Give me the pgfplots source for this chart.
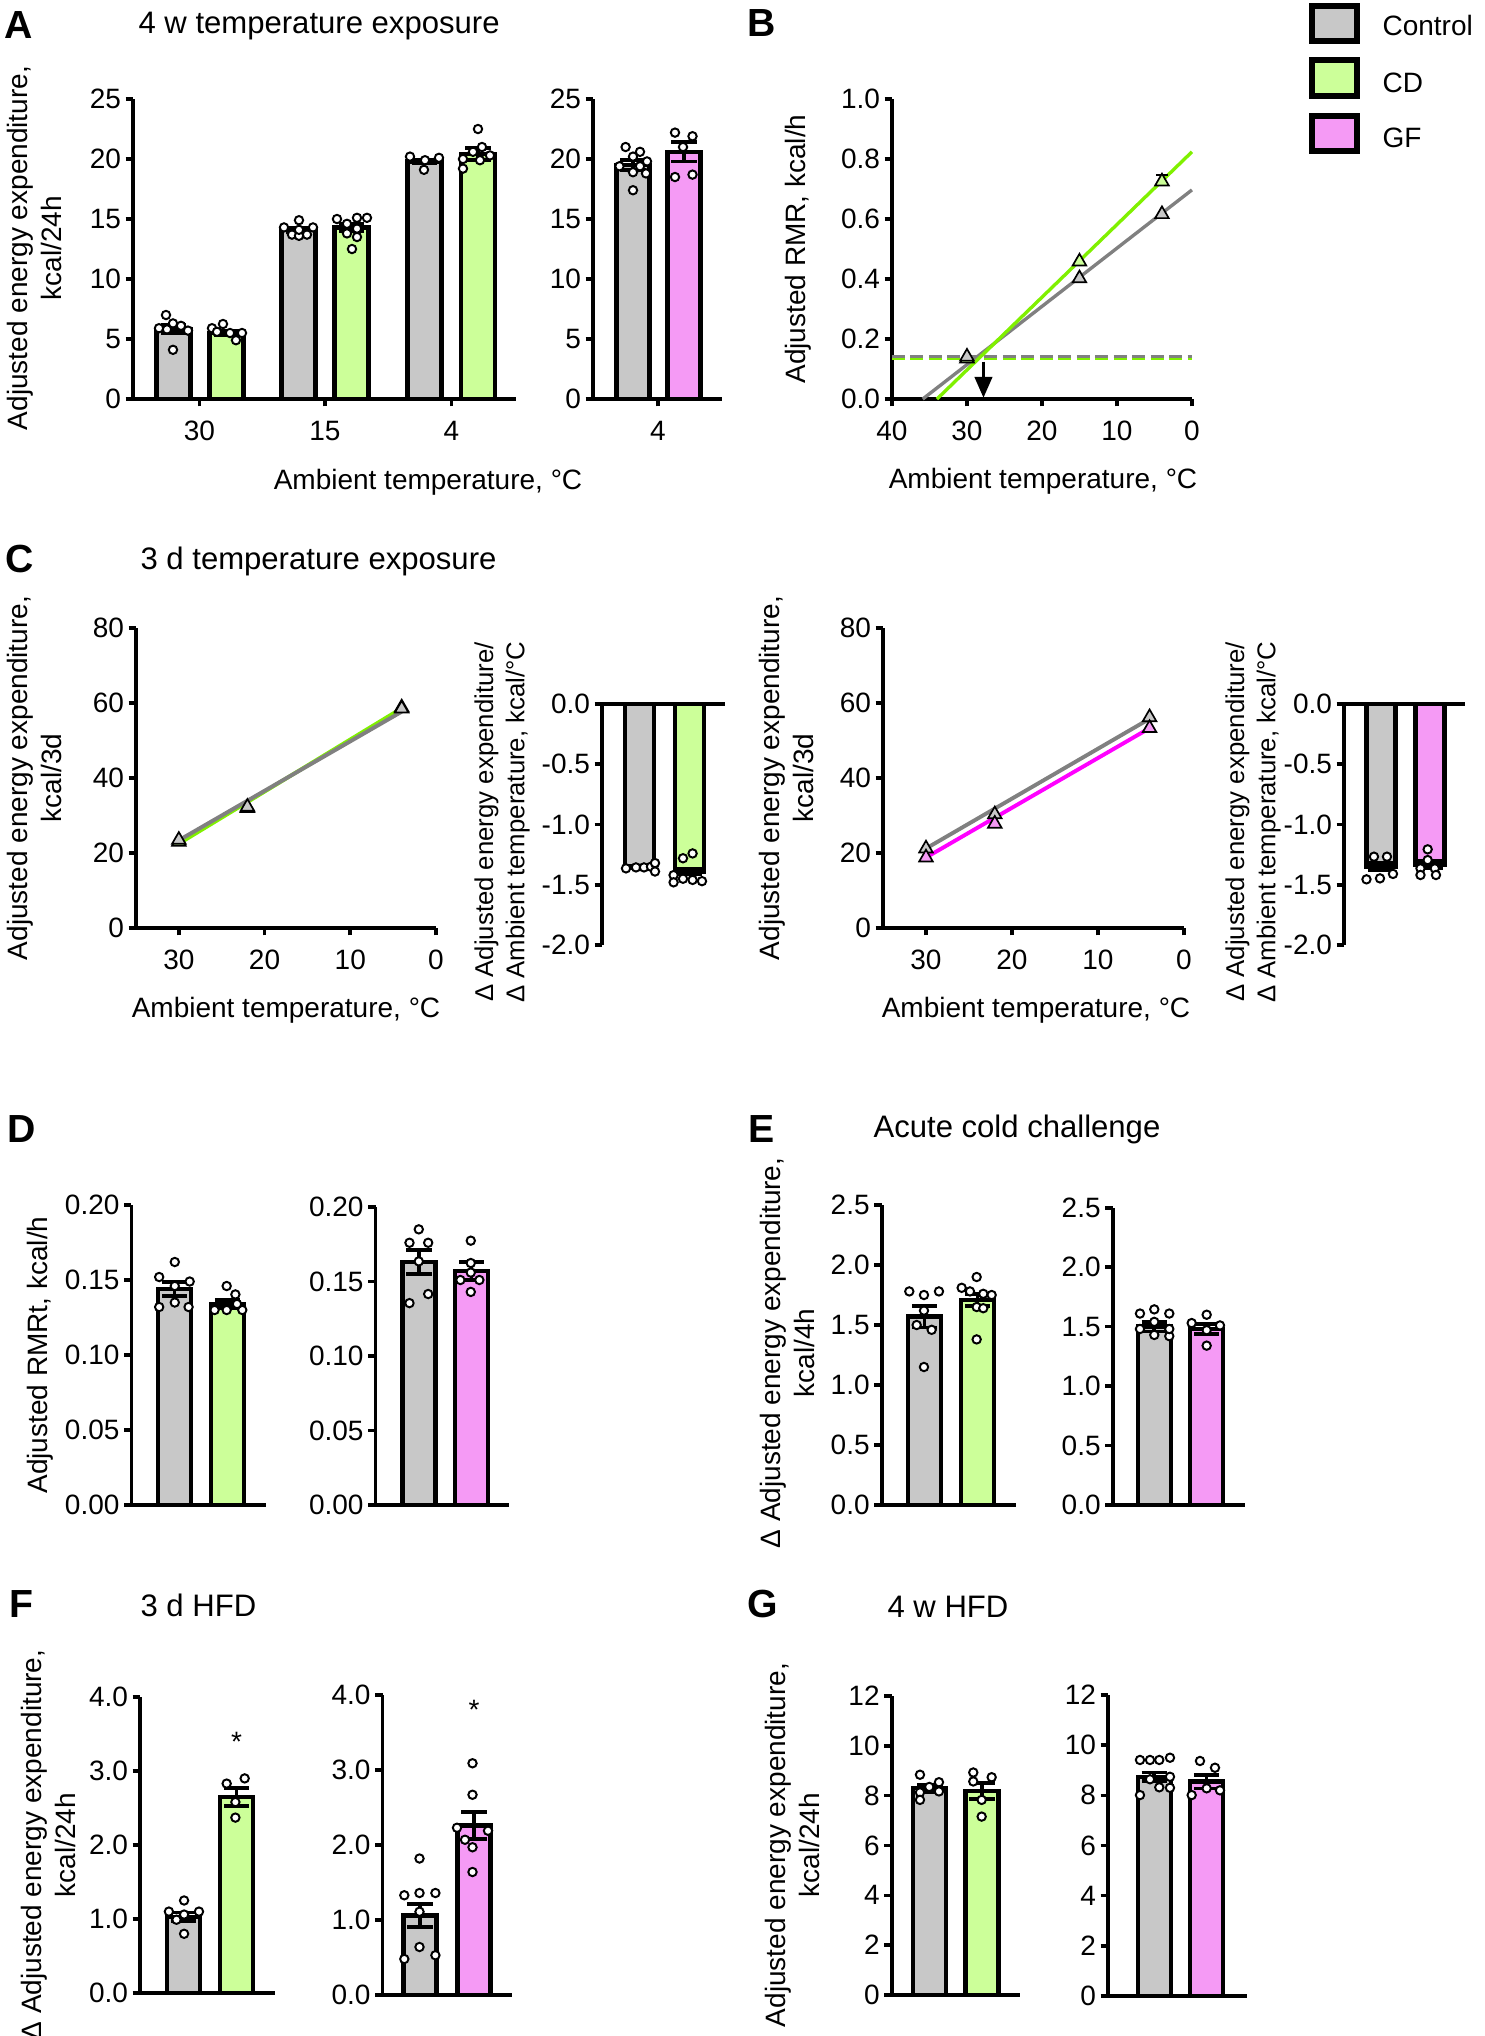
\documentclass[border=0pt]{standalone}
\usepackage{fontspec}
\setmainfont{Liberation Sans}
\usepackage{pgfplots}
\pgfplotsset{compat=1.18}
\usetikzlibrary{arrows.meta}

\definecolor{cgray}{HTML}{C8C8C8}
\definecolor{cgreen}{HTML}{CCFF99}
\definecolor{cpink}{HTML}{F59AF5}
\definecolor{lgray}{HTML}{808080}
\definecolor{lgreen}{HTML}{80F000}
\definecolor{lpink}{HTML}{FF00FF}

\pgfplotsset{
  base/.style={
    scale only axis, anchor=south west, clip=false,
    axis line style={line width=1.3pt},
    every tick/.style={black, line width=1.3pt},
    tick align=outside, major tick length=2.6pt,
    /pgf/number format/assume math mode=true,
    tick label style={font=\fontsize{10}{12}\selectfont},
    yticklabel style={inner sep=0pt, xshift=-1.5pt},
    xticklabel style={inner sep=0pt, yshift=-5.2pt},
    axis x line*=bottom, axis y line*=left,
  },
  barax/.style={base, xtick=\empty},
  bars/.style 2 args={ybar, bar shift=0pt, bar width=#2, draw=black, line width=1.6pt, fill=#1,
    /pgfplots/error bars/y dir=both, /pgfplots/error bars/y explicit,
    /pgfplots/error bars/error bar style={line width=1.3pt, black},
    /pgfplots/error bars/error mark options={rotate=90, line width=1.3pt, mark size=4.5pt, black}},
  dots/.style={only marks, mark=*, mark size=1.5pt, mark options={fill=white, draw=black, line width=0.7pt, solid}},
  tri/.style={only marks, mark=triangle*, mark size=2.8pt, mark options={fill=#1, draw=black, line width=0.6pt, solid}},
  prec1/.style={yticklabel style={/pgf/number format/fixed, /pgf/number format/fixed zerofill, /pgf/number format/precision=1}},
  prec2/.style={yticklabel style={/pgf/number format/fixed, /pgf/number format/fixed zerofill, /pgf/number format/precision=2}},
}

\begin{document}
\begin{tikzpicture}[x=0.35714pt,y=0.35714pt]
\path[use as bounding box] (0,0) rectangle (1485,-2036);

% ---------- A left
\begin{axis}[barax, at={(47.50pt,-142.50pt)}, width=136.78pt, height=107.14pt,
  xmin=133, xmax=516, ymin=0, ymax=25, ytick={0,5,10,15,20,25},
  xtick={199.5,325,451.5}, xticklabels={30,15,4}]
\addplot[bars={cgray}{34}] coordinates {(173.5,5.8) +- (0,0.35) (298.7,14.1) +- (0,0.2) (424.7,19.8) +- (0,0.15)};
\addplot[bars={cgreen}{34}] coordinates {(226.5,5.5) +- (0,0.2) (351.7,14.3) +- (0,0.3) (478,20.4) +- (0,0.5)};
\addplot[dots] coordinates {(166,7.0) (173,6.3) (181,6.1) (159,5.9) (188,5.7) (167,5.8) (173,4.1)
 (299,14.9) (284,14.3) (313,14.3) (292,13.7) (307,13.7) (299,13.6) (299,14.1)
 (410,20.2) (425,19.9) (439,20.1) (424,19.1)};
\addplot[dots] coordinates {(212,5.9) (223,6.25) (217,5.6) (230,5.5) (242,5.5) (236,4.9)
 (337,15.0) (357,15.1) (367,15.1) (347,14.6) (357,14.2) (347,13.8) (357,13.5) (352,12.5)
 (478,22.5) (482,21.0) (473,20.6) (490,20.3) (463,20.0) (480,19.9) (463,19.2)};
\end{axis}

% ---------- A right
\begin{axis}[barax, at={(211.79pt,-142.50pt)}, width=46.07pt, height=107.14pt,
  xmin=593, xmax=722, ymin=0, ymax=25, ytick={0,5,10,15,20,25},
  xtick={658}, xticklabels={4}]
\addplot[bars={cgray}{33}] coordinates {(633,19.5) +- (0,0.4)};
\addplot[bars={cpink}{33}] coordinates {(684,20.6) +- (0,0.8)};
\addplot[dots] coordinates {(625.6,21.0) (640,20.6) (633,20.2) (647,19.8) (619.5,19.4) (640,19.4) (633,18.9) (646,18.8) (633,17.4)};
\addplot[dots] coordinates {(675,22.2) (692.5,21.9) (683,21.0) (675,18.5) (692.5,18.7)};
\end{axis}

% ---------- B
\begin{axis}[base, at={(318.57pt,-142.50pt)}, width=107.14pt, height=107.14pt,
  xmin=0, xmax=40, x dir=reverse, ymin=0, ymax=1,
  xtick={0,10,20,30,40}, ytick={0,0.2,0.4,0.6,0.8,1}, prec1]
\addplot[lgreen, line width=1.2pt, dash pattern=on 4.6pt off 2pt] coordinates {(40,0.136) (0,0.136)};
\addplot[lgray, line width=1.2pt, dash pattern=on 4.6pt off 2pt] coordinates {(40,0.141) (0,0.141)};
\addplot[lgray, line width=1.2pt] coordinates {(35.9,0) (0,0.697)};
\addplot[lgreen, line width=1.2pt] coordinates {(34.0,0) (0,0.824)};
\addplot[black, line width=0.8pt] coordinates {(4,0.725) (4,0.747)};
\addplot[black, line width=0.8pt] coordinates {(4.8,0.747) (3.2,0.747)};
\addplot[tri=cgreen] coordinates {(30,0.135) (15,0.458) (4,0.725)};
\addplot[tri=cgray] coordinates {(30,0.141) (15,0.402) (4,0.616)};
\addplot[black, line width=1.2pt, -{Triangle[length=7.5pt, width=6.2pt]}] coordinates {(27.8,0.125) (27.8,0.004)};
\end{axis}

% ---------- C left line
\begin{axis}[base, at={(48.57pt,-331.43pt)}, width=107.14pt, height=107.14pt,
  xmin=0, xmax=35, x dir=reverse, ymin=0, ymax=80,
  xtick={0,10,20,30}, ytick={0,20,40,60,80}]
\addplot[lgreen, line width=1.4pt] coordinates {(30,22.5) (4,58.6)};
\addplot[lgray, line width=1.4pt] coordinates {(30,23.4) (4,57.7)};
\addplot[tri=cgreen] coordinates {(30,23.0) (22,32.0) (4,58.8)};
\addplot[tri=cgray] coordinates {(30,23.5) (22,32.3) (4,58.5)};
\end{axis}

% ---------- C left bars
\begin{axis}[barax, at={(215.00pt,-337.50pt)}, width=43.93pt, height=86.07pt,
  xmin=602, xmax=725, ymin=-2, ymax=0, ytick={-2,-1.5,-1,-0.5,0}, prec1,
  axis x line*=top]
\addplot[bars={cgray}{29}] coordinates {(639.5,-1.35) +- (0,0.01)};
\addplot[bars={cgreen}{29}] coordinates {(689.5,-1.39) +- (0,0.025)};
\addplot[dots] coordinates {(626,-1.364) (636,-1.356) (644,-1.356) (651,-1.35) (655,-1.32) (655,-1.39)};
\addplot[dots] coordinates {(683,-1.28) (692.6,-1.24) (673.6,-1.42) (673.6,-1.48) (683,-1.45) (692.6,-1.46) (702,-1.47)};
\end{axis}

% ---------- C right line
\begin{axis}[base, at={(315.36pt,-331.43pt)}, width=107.5pt, height=107.14pt,
  xmin=0, xmax=35, x dir=reverse, ymin=0, ymax=80,
  xtick={0,10,20,30}, ytick={0,20,40,60,80}]
\addplot[lgray, line width=1.4pt] coordinates {(30,21.2) (4,55.8)};
\addplot[lpink, line width=1.4pt] coordinates {(30,18.8) (4,53.3)};
\addplot[tri=cgray] coordinates {(30,21.2) (22,30.3) (4,56.2)};
\addplot[tri=cpink] coordinates {(30,18.8) (22,27.8) (4,53.3)};
\end{axis}

% ---------- C right bars
\begin{axis}[barax, at={(480.00pt,-337.50pt)}, width=43.21pt, height=86.07pt,
  xmin=1344, xmax=1465, ymin=-2, ymax=0, ytick={-2,-1.5,-1,-0.5,0}, prec1,
  axis x line*=top]
\addplot[bars={cgray}{29}] coordinates {(1381,-1.35) +- (0,0.03)};
\addplot[bars={cpink}{29}] coordinates {(1430,-1.33) +- (0,0.03)};
\addplot[dots] coordinates {(1366.5,-1.455) (1374,-1.267) (1387,-1.267) (1380,-1.447) (1393,-1.41)};
\addplot[dots] coordinates {(1427.7,-1.206) (1427.7,-1.295) (1420.5,-1.364) (1434.8,-1.364) (1420.5,-1.419) (1436,-1.419)};
\end{axis}

% ---------- D left
\begin{axis}[barax, at={(46.96pt,-537.50pt)}, width=48.21pt, height=107.14pt,
  xmin=131.5, xmax=266.5, ymin=0, ymax=0.2, ytick={0,0.05,0.1,0.15,0.2}, prec2]
\addplot[bars={cgray}{33}] coordinates {(174.5,0.144) +- (0,0.0045)};
\addplot[bars={cgreen}{33}] coordinates {(227.5,0.134) +- (0,0.0028)};
\addplot[dots] coordinates {(174.8,0.162) (159.2,0.152) (189.7,0.149) (174.8,0.146) (174.8,0.135) (159.2,0.132) (188.6,0.132)};
\addplot[dots] coordinates {(226.7,0.146) (235.4,0.1404) (214.6,0.130) (226.7,0.130) (242.3,0.130) (237,0.134)};
\end{axis}

% ---------- D right
\begin{axis}[barax, at={(134.14pt,-537.50pt)}, width=47.64pt, height=106.43pt,
  xmin=375.6, xmax=509, ymin=0, ymax=0.2, ytick={0,0.05,0.1,0.15,0.2}, prec2]
\addplot[bars={cgray}{33}] coordinates {(419,0.163) +- (0,0.008)};
\addplot[bars={cpink}{33}] coordinates {(471.5,0.157) +- (0,0.006)};
\addplot[dots] coordinates {(418.8,0.185) (409.5,0.176) (428.2,0.176) (418.8,0.1635) (428.2,0.1416) (409.5,0.1355)};
\addplot[dots] coordinates {(470.8,0.1774) (470.8,0.1624) (460.4,0.151) (479.4,0.151) (470.8,0.143) (470.8,0.156)};
\end{axis}

% ---------- E left
\begin{axis}[barax, at={(314.89pt,-537.50pt)}, width=47.96pt, height=107.14pt,
  xmin=881.7, xmax=1016, ymin=0, ymax=2.5, ytick={0,0.5,1,1.5,2,2.5}, prec1]
\addplot[bars={cgray}{33}] coordinates {(924.5,1.57) +- (0,0.09)};
\addplot[bars={cgreen}{33}] coordinates {(977.5,1.71) +- (0,0.05)};
\addplot[dots] coordinates {(909.3,1.78) (924,1.75) (939,1.78) (924,1.62) (916.7,1.50) (931.7,1.46) (924,1.15)};
\addplot[dots] coordinates {(976.7,1.90) (961.7,1.81) (970,1.78) (983.3,1.76) (991.7,1.75) (976.7,1.65) (983.3,1.64) (976.7,1.38)};
\end{axis}

% ---------- E right
\begin{axis}[barax, at={(397.39pt,-537.50pt)}, width=47.25pt, height=106.18pt,
  xmin=1112.7, xmax=1245, ymin=0, ymax=2.5, ytick={0,0.5,1,1.5,2,2.5}, prec1]
\addplot[bars={cgray}{33}] coordinates {(1154.3,1.50) +- (0,0.04)};
\addplot[bars={cpink}{33}] coordinates {(1206.5,1.48) +- (0,0.04)};
\addplot[dots] coordinates {(1140,1.61) (1154.3,1.645) (1169.3,1.61) (1154.3,1.54) (1140,1.48) (1154.3,1.43) (1169.3,1.42) (1169.3,1.48)};
\addplot[dots] coordinates {(1206.7,1.60) (1191.7,1.53) (1220,1.51) (1206.7,1.47) (1206.7,1.34)};
\end{axis}

% ---------- F left
\begin{axis}[barax, at={(50.00pt,-711.78pt)}, width=48.21pt, height=105.71pt,
  xmin=140, xmax=275, ymin=0, ymax=4, ytick={0,1,2,3,4}, prec1]
\addplot[bars={cgray}{33}] coordinates {(183.5,1.03) +- (0,0.06)};
\addplot[bars={cgreen}{33}] coordinates {(236.5,2.65) +- (0,0.12)};
\addplot[dots] coordinates {(184.1,1.25) (168.9,1.10) (199,1.10) (184.1,1.06) (176.5,0.99) (184.1,0.80)};
\addplot[dots] coordinates {(244.7,2.90) (226.7,2.83) (235.4,2.58) (235.4,2.37)};
\node[anchor=north, inner sep=0pt, font=\fontsize{10}{12}\selectfont] at (axis cs:236.5,3.53) {*};
\end{axis}

% ---------- F right
\begin{axis}[barax, at={(136.61pt,-712.50pt)}, width=46.11pt, height=107.14pt,
  xmin=382.5, xmax=511.6, ymin=0, ymax=4, ytick={0,1,2,3,4}, prec1]
\addplot[bars={cgray}{33}] coordinates {(420,1.06) +- (0,0.155)};
\addplot[bars={cpink}{33}] coordinates {(474,2.26) +- (0,0.18)};
\addplot[dots] coordinates {(419.5,1.82) (404.3,1.33) (419.5,1.36) (435.4,1.36) (419.5,1.11) (419.5,0.64) (404.3,0.48) (435.4,0.53)};
\addplot[dots] coordinates {(472.5,3.09) (472.5,2.67) (457,2.23) (488,2.19) (465,2.07) (472.5,1.97) (472.5,1.64)};
\node[anchor=north, inner sep=0pt, font=\fontsize{10}{12}\selectfont] at (axis cs:474,3.94) {*};
\end{axis}

% ---------- G left
\begin{axis}[barax, at={(318.46pt,-712.50pt)}, width=45.82pt, height=106.79pt,
  xmin=891.7, xmax=1020, ymin=0, ymax=12, ytick={0,2,4,6,8,10,12}]
\addplot[bars={cgray}{33}] coordinates {(929.5,8.30) +- (0,0.15)};
\addplot[bars={cgreen}{33}] coordinates {(982,8.19) +- (0,0.33)};
\addplot[dots] coordinates {(920,8.84) (939,8.54) (929.3,8.35) (920,8.13) (939,8.17) (920,7.83)};
\addplot[dots] coordinates {(973.3,8.93) (991.7,8.74) (973.3,8.57) (981.7,7.83) (981.7,7.16)};
\end{axis}

% ---------- G right
\begin{axis}[barax, at={(395.71pt,-712.86pt)}, width=49.54pt, height=107.5pt,
  xmin=1108, xmax=1246.7, ymin=0, ymax=12, ytick={0,2,4,6,8,10,12}]
\addplot[bars={cgray}{33}] coordinates {(1154.3,8.74) +- (0,0.17)};
\addplot[bars={cpink}{33}] coordinates {(1206.5,8.55) +- (0,0.27)};
\addplot[dots] coordinates {(1140,9.41) (1150,9.41) (1159.3,9.41) (1170,9.50) (1150,8.64) (1170,8.74) (1159.3,8.32) (1140,8.01) (1170,8.3)};
\addplot[dots] coordinates {(1200,9.37) (1215,9.1) (1191.7,8.01) (1206.7,8.28) (1220,8.2)};
\end{axis}

% ---------- texts
\begin{scope}[every node/.style={inner sep=0pt}]
\foreach \l/\x/\y in {A/4/38, B/747/36, C/5/572, D/7/1142, E/748/1142, F/9/1617, G/747/1617}
  \node[anchor=base west, font=\fontsize{14}{16}\selectfont\bfseries] at (\x,-\y) {\l};
\node[anchor=base west, font=\fontsize{11.1}{13}\selectfont] at (138,-33) {4 w temperature exposure};
\node[anchor=base west, font=\fontsize{11.1}{13}\selectfont] at (140,-569) {3 d temperature exposure};
\node[anchor=base west, font=\fontsize{11.1}{13}\selectfont] at (873,-1137) {Acute cold challenge};
\node[anchor=base west, font=\fontsize{11.1}{13}\selectfont] at (140,-1616) {3 d HFD};
\node[anchor=base west, font=\fontsize{11.1}{13}\selectfont] at (887,-1617) {4 w HFD};

\node[anchor=base] at (428,-489) {Ambient temperature, °C};
\node[anchor=base] at (1043,-488) {Ambient temperature, °C};
\node[anchor=base] at (286,-1017) {Ambient temperature, °C};
\node[anchor=base] at (1036,-1017) {Ambient temperature, °C};

\node[rotate=90, anchor=north, align=center, font=\fontsize{10}{12.1}\selectfont] at (7,-248) {Adjusted energy expenditure,\\kcal/24h};
\node[rotate=90, anchor=north, font=\fontsize{10}{12.1}\selectfont] at (785,-249) {Adjusted RMR, kcal/h};
\node[rotate=90, anchor=north, align=center, font=\fontsize{10}{12.1}\selectfont] at (7,-778) {Adjusted energy expenditure,\\kcal/3d};
\node[rotate=90, anchor=north, align=center, font=\fontsize{10}{12.1}\selectfont] at (759,-778) {Adjusted energy expenditure,\\kcal/3d};
\node[rotate=90, anchor=north, align=center, font=\fontsize{9.2}{11.1}\selectfont] at (474,-822) {Δ Adjusted energy expenditure/\\Δ Ambient temperature, kcal/°C};
\node[rotate=90, anchor=north, align=center, font=\fontsize{9.2}{11.1}\selectfont] at (1225,-822) {Δ Adjusted energy expenditure/\\Δ Ambient temperature, kcal/°C};
\node[rotate=90, anchor=north, font=\fontsize{10}{12.1}\selectfont] at (27,-1355) {Adjusted RMRt, kcal/h};
\node[rotate=90, anchor=north, align=center, font=\fontsize{10}{12.1}\selectfont] at (760,-1353) {Δ Adjusted energy expenditure,\\kcal/4h};
\node[rotate=90, anchor=north, align=center, font=\fontsize{10}{12.1}\selectfont] at (21,-1845) {Δ Adjusted energy expenditure,\\kcal/24h};
\node[rotate=90, anchor=north, align=center, font=\fontsize{10}{12.1}\selectfont] at (765,-1845) {Adjusted energy expenditure,\\kcal/24h};

% legend
\draw[line width=2.1pt, fill=cgray] (1312,-6) rectangle (1357,-41);
\draw[line width=2.1pt, fill=cgreen] (1312,-60) rectangle (1357,-96);
\draw[line width=2.1pt, fill=cpink] (1312,-116) rectangle (1357,-151);
\node[anchor=base west] at (1382,-35) {Control};
\node[anchor=base west] at (1382,-92) {CD};
\node[anchor=base west] at (1382,-147) {GF};
\end{scope}
\end{tikzpicture}
\end{document}
